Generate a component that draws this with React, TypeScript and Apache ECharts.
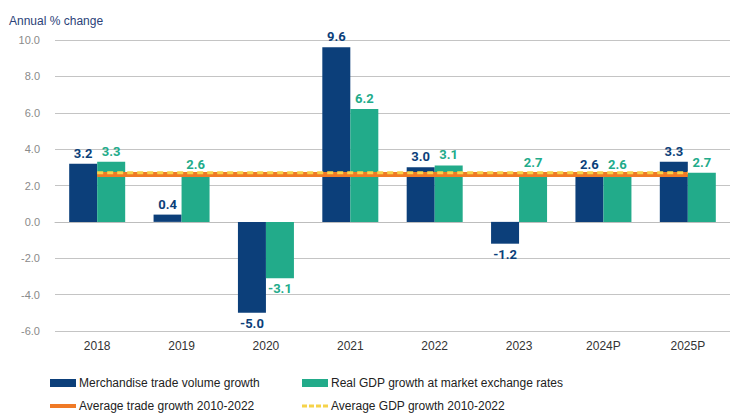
import React, { useEffect, useRef } from "react";
import * as echarts from "echarts";

const categories = ["2018", "2019", "2020", "2021", "2022", "2023", "2024P", "2025P"];
const tradeGrowth = [3.2, 0.4, -5.0, 9.6, 3.0, -1.2, 2.6, 3.3];
const gdpGrowth = [3.3, 2.6, -3.1, 6.2, 3.1, 2.7, 2.6, 2.7];
const avgTrade = [2.6, 2.6, 2.6, 2.6, 2.6, 2.6, 2.6, 2.6];
const avgGdp = [2.7, 2.7, 2.7, 2.7, 2.7, 2.7, 2.7, 2.7];

const NAVY = "#0c3f7a";
const GREEN = "#22ab8a";
const ORANGE = "#f07a26";
const YELLOW = "#f6d34a";
const LEGEND_FONT = "'Liberation Sans Narrow', 'Arial Narrow', 'Liberation Sans', sans-serif";

function barData(vals: number[]) {
  return vals.map((v) => ({
    value: v,
    label: { position: v < 0 ? "bottom" : "top" },
  }));
}

function legendAt(name: string, left: number, top: number, icon: string, h: number) {
  return {
    left,
    top,
    padding: 0,
    itemWidth: 26,
    itemHeight: h,
    icon,
    data: [name],
    textStyle: { fontSize: 12, color: "#222", fontFamily: LEGEND_FONT, padding: [0, 0, 0, -2] },
  };
}

export default function App() {
  const ref = useRef<HTMLDivElement>(null);
  useEffect(() => {
    if (!ref.current) return;
    const chart = echarts.init(ref.current, undefined, { renderer: "svg" });
    const labelBase = {
      show: true,
      fontSize: 13,
      fontWeight: "bold" as const,
      fontFamily: "Roboto, 'Liberation Sans', sans-serif",
      distance: 4,
      formatter: (p: any) => Number(p.value).toFixed(1),
    };
    chart.setOption({
      animation: false,
      backgroundColor: "#ffffff",
      title: {
        text: "Annual % change",
        left: 4,
        top: 10,
        textStyle: {
          fontSize: 12,
          fontWeight: "normal",
          color: "#2b4278",
          fontFamily: "'Liberation Sans', Arial, sans-serif",
        },
      },
      legend: [
        legendAt("Merchandise trade volume growth", 50, 377, "rect", 8),
        legendAt("Average trade growth 2010-2022", 50, 400, "rect", 4),
        legendAt("Real GDP growth at market exchange rates", 302, 377, "rect", 8),
        legendAt(
          "Average GDP growth 2010-2022",
          302,
          400,
          "path://M0,0h5v3h-5z M7,0h5v3h-5z M14,0h5v3h-5z M21,0h5v3h-5z",
          3
        ),
      ],
      grid: { left: 55, right: -11, top: 40, bottom: 86, containLabel: false },
      xAxis: {
        type: "category",
        data: categories,
        axisTick: { show: false },
        axisLine: { show: true, lineStyle: { color: "#bdbdbd", width: 1 } },
        axisLabel: {
          margin: 9,
          fontSize: 12,
          color: "#333",
          fontFamily: "'Liberation Sans', Arial, sans-serif",
        },
      },
      yAxis: {
        type: "value",
        min: -6,
        max: 10,
        interval: 2,
        axisLine: { show: false },
        axisTick: { show: false },
        splitLine: { lineStyle: { color: "#c4c4c4", width: 1 } },
        axisLabel: {
          margin: 15,
          fontSize: 11,
          color: "#8a8a8a",
          fontFamily: "'Liberation Sans', Arial, sans-serif",
          formatter: (v: number) => v.toFixed(1),
        },
      },
      series: [
        {
          name: "Merchandise trade volume growth",
          type: "bar",
          data: barData(tradeGrowth),
          barWidth: 28,
          barGap: "0%",
          itemStyle: { color: NAVY },
          label: { ...labelBase, color: NAVY },
        },
        {
          name: "Real GDP growth at market exchange rates",
          type: "bar",
          data: barData(gdpGrowth),
          barWidth: 28,
          barGap: "0%",
          itemStyle: { color: GREEN },
          label: { ...labelBase, color: GREEN },
        },
        {
          name: "Average trade growth 2010-2022",
          type: "line",
          data: avgTrade,
          symbol: "none",
          z: 5,
          itemStyle: { color: ORANGE },
          lineStyle: { color: ORANGE, width: 5 },
        },
        {
          name: "Average GDP growth 2010-2022",
          type: "line",
          data: avgGdp,
          symbol: "none",
          z: 6,
          itemStyle: { color: YELLOW },
          lineStyle: { color: YELLOW, width: 3, type: [6, 4] },
        },
      ],
    });
    return () => chart.dispose();
  }, []);
  return <div ref={ref} style={{ width: 730, height: 417, position: "absolute", left: 0, top: 0 }} />;
}
